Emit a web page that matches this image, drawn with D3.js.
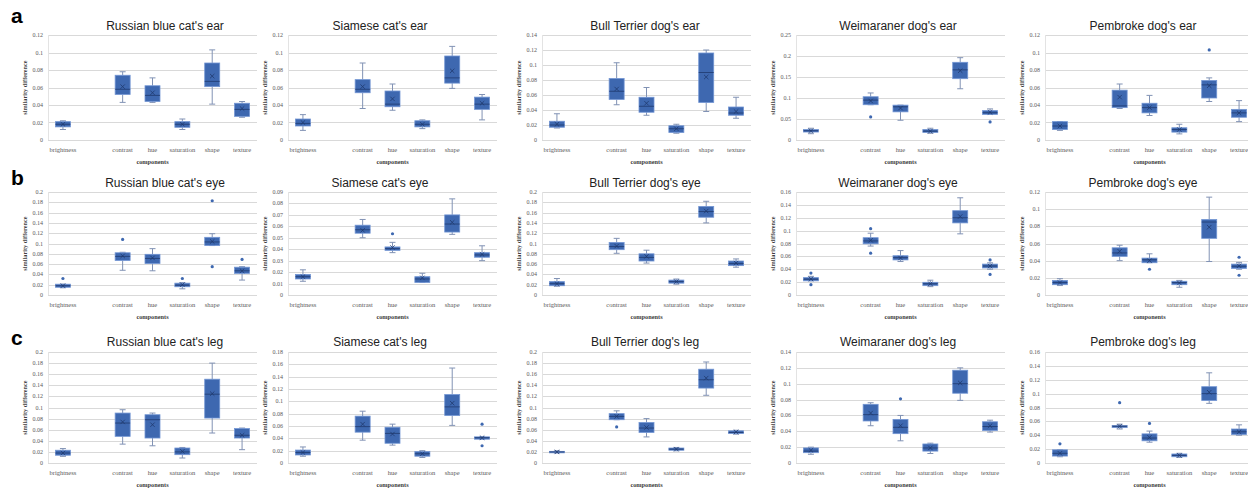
<!DOCTYPE html>
<html>
<head>
<meta charset="utf-8">
<script src="https://cdn.jsdelivr.net/npm/d3@7"></script>
<style>
  body { margin: 0; background: #fff; }
  svg { display: block; }
  .title { font-family: "Liberation Sans", Arial, sans-serif; font-size: 12px; fill: #222; }
  .letter { font-family: "Liberation Sans", Arial, sans-serif; font-size: 21px; font-weight: bold; fill: #000; }
  .tick-label { font-family: "Liberation Serif", "Times New Roman", serif; font-size: 6px; fill: #595959; }
  .cat-label { font-family: "Liberation Serif", "Times New Roman", serif; font-size: 6.5px; fill: #595959; }
  .axis-title { font-family: "Liberation Serif", "Times New Roman", serif; font-size: 6.3px; font-weight: bold; fill: #404040; }
</style>
</head>
<body>
<svg id="chart"></svg>
<script>
// ---- data ----
const components = ["brightness", "contrast", "hue", "saturation", "shape", "texture"];
// brightness sits apart from the others, so leave an empty slot after it
const slots = ["brightness", "_gap", "contrast", "hue", "saturation", "shape", "texture"];
const rowLetters = ["a", "b", "c"];

const titles = [
  ["Russian blue cat's ear", "Siamese cat's ear", "Bull Terrier dog's ear", "Weimaraner dog's ear", "Pembroke dog's ear"],
  ["Russian blue cat's eye", "Siamese cat's eye", "Bull Terrier dog's eye", "Weimaraner dog's eye", "Pembroke dog's eye"],
  ["Russian blue cat's leg", "Siamese cat's leg", "Bull Terrier dog's leg", "Weimaraner dog's leg", "Pembroke dog's leg"]
];

const yMax = [
  [0.12, 0.12, 0.14, 0.25, 0.12],
  [0.2, 0.09, 0.2, 0.16, 0.12],
  [0.2, 0.18, 0.2, 0.14, 0.16]
];
const yStep = [
  [0.02, 0.02, 0.02, 0.05, 0.02],
  [0.02, 0.01, 0.02, 0.02, 0.02],
  [0.02, 0.02, 0.02, 0.02, 0.02]
];

// each row: [whisker low, q1, median, q3, whisker high, mean, outliers]
const russianEar = [
  [0.012, 0.015, 0.018, 0.021, 0.022, 0.018, []],
  [0.043, 0.052, 0.058, 0.074, 0.078, 0.061, []],
  [0.043, 0.044, 0.051, 0.062, 0.071, 0.054, []],
  [0.012, 0.0145, 0.018, 0.021, 0.024, 0.018, []],
  [0.041, 0.061, 0.067, 0.088, 0.103, 0.073, []],
  [0.026, 0.027, 0.035, 0.042, 0.044, 0.036, []]
];
const siameseEar = [
  [0.011, 0.016, 0.019, 0.024, 0.029, 0.02, []],
  [0.036, 0.054, 0.058, 0.069, 0.088, 0.061, []],
  [0.034, 0.038, 0.041, 0.056, 0.064, 0.047, []],
  [0.013, 0.015, 0.018, 0.022, 0.023, 0.018, []],
  [0.059, 0.065, 0.071, 0.096, 0.107, 0.079, []],
  [0.023, 0.035, 0.041, 0.049, 0.052, 0.042, []]
];
const bullEar = [
  [0.016, 0.017, 0.02, 0.025, 0.035, 0.021, []],
  [0.047, 0.054, 0.065, 0.082, 0.103, 0.068, []],
  [0.033, 0.037, 0.045, 0.057, 0.07, 0.049, []],
  [0.009, 0.01, 0.015, 0.019, 0.021, 0.015, []],
  [0.038, 0.05, 0.09, 0.116, 0.12, 0.084, []],
  [0.029, 0.033, 0.036, 0.044, 0.057, 0.038, []]
];
const weimEar = [
  [0.015, 0.019, 0.022, 0.025, 0.028, 0.022, []],
  [0.084, 0.084, 0.095, 0.103, 0.112, 0.093, [0.055]],
  [0.047, 0.067, 0.079, 0.083, 0.083, 0.076, []],
  [0.016, 0.018, 0.021, 0.025, 0.028, 0.021, []],
  [0.122, 0.146, 0.167, 0.185, 0.196, 0.165, []],
  [0.061, 0.061, 0.065, 0.07, 0.074, 0.066, [0.043]]
];
const pembEar = [
  [0.011, 0.012, 0.016, 0.021, 0.021, 0.016, []],
  [0.036, 0.037, 0.039, 0.057, 0.064, 0.049, []],
  [0.028, 0.031, 0.037, 0.042, 0.051, 0.037, []],
  [0.007, 0.009, 0.012, 0.014, 0.018, 0.012, []],
  [0.044, 0.048, 0.063, 0.068, 0.071, 0.062, [0.103]],
  [0.021, 0.026, 0.031, 0.035, 0.045, 0.031, []]
];

const russianEye = [
  [0.014, 0.015, 0.018, 0.021, 0.021, 0.018, [0.032]],
  [0.048, 0.067, 0.075, 0.082, 0.083, 0.076, [0.108]],
  [0.047, 0.061, 0.071, 0.079, 0.09, 0.072, []],
  [0.012, 0.016, 0.019, 0.023, 0.024, 0.02, [0.032]],
  [0.096, 0.096, 0.103, 0.112, 0.119, 0.104, [0.183, 0.055]],
  [0.029, 0.042, 0.047, 0.054, 0.055, 0.047, [0.069]]
];
const siameseEye = [
  [0.012, 0.014, 0.016, 0.018, 0.022, 0.016, []],
  [0.05, 0.054, 0.057, 0.061, 0.066, 0.0565, []],
  [0.037, 0.039, 0.0405, 0.042, 0.046, 0.0415, [0.0535]],
  [0.011, 0.011, 0.014, 0.016, 0.019, 0.015, []],
  [0.053, 0.055, 0.062, 0.07, 0.084, 0.0635, []],
  [0.03, 0.033, 0.035, 0.037, 0.043, 0.0355, []]
];
const bullEye = [
  [0.017, 0.018, 0.022, 0.026, 0.032, 0.022, []],
  [0.081, 0.088, 0.094, 0.102, 0.11, 0.095, []],
  [0.062, 0.066, 0.073, 0.08, 0.087, 0.075, []],
  [0.021, 0.023, 0.026, 0.029, 0.031, 0.026, []],
  [0.14, 0.151, 0.162, 0.172, 0.182, 0.163, []],
  [0.054, 0.057, 0.061, 0.066, 0.07, 0.062, []]
];
const weimEye = [
  [0.022, 0.022, 0.0245, 0.027, 0.029, 0.025, [0.034, 0.016]],
  [0.076, 0.0795, 0.084, 0.089, 0.096, 0.085, [0.103, 0.065]],
  [0.052, 0.0545, 0.058, 0.061, 0.069, 0.0575, []],
  [0.013, 0.0145, 0.0175, 0.0197, 0.023, 0.0175, []],
  [0.095, 0.112, 0.12, 0.131, 0.151, 0.122, []],
  [0.04, 0.042, 0.045, 0.048, 0.05, 0.045, [0.0545, 0.032]]
];
const pembEye = [
  [0.011, 0.012, 0.0145, 0.017, 0.019, 0.0145, []],
  [0.04, 0.045, 0.049, 0.055, 0.058, 0.051, []],
  [0.0376, 0.0376, 0.041, 0.043, 0.048, 0.04, [0.03]],
  [0.009, 0.012, 0.0145, 0.016, 0.017, 0.014, []],
  [0.039, 0.066, 0.085, 0.088, 0.114, 0.079, []],
  [0.03, 0.031, 0.0335, 0.036, 0.038, 0.034, [0.044, 0.023]]
];

const russianLeg = [
  [0.012, 0.014, 0.018, 0.023, 0.026, 0.018, []],
  [0.034, 0.048, 0.072, 0.09, 0.096, 0.074, []],
  [0.031, 0.045, 0.078, 0.087, 0.09, 0.069, []],
  [0.009, 0.015, 0.02, 0.027, 0.028, 0.021, []],
  [0.054, 0.081, 0.124, 0.151, 0.18, 0.125, []],
  [0.024, 0.045, 0.05, 0.062, 0.063, 0.05, []]
];
const siameseLeg = [
  [0.011, 0.013, 0.017, 0.021, 0.026, 0.017, []],
  [0.037, 0.05, 0.059, 0.076, 0.084, 0.063, []],
  [0.029, 0.032, 0.048, 0.058, 0.063, 0.047, []],
  [0.009, 0.011, 0.015, 0.0185, 0.02, 0.015, []],
  [0.061, 0.077, 0.091, 0.111, 0.154, 0.097, []],
  [0.0386, 0.0386, 0.041, 0.0424, 0.0424, 0.041, [0.063, 0.028]]
];
const bullLeg = [
  [0.018, 0.019, 0.02, 0.021, 0.022, 0.02, []],
  [0.078, 0.078, 0.084, 0.089, 0.094, 0.084, [0.065]],
  [0.047, 0.055, 0.063, 0.073, 0.08, 0.064, []],
  [0.022, 0.023, 0.025, 0.027, 0.028, 0.025, []],
  [0.122, 0.135, 0.15, 0.169, 0.182, 0.153, []],
  [0.052, 0.053, 0.055, 0.058, 0.059, 0.056, []]
];
const weimLeg = [
  [0.011, 0.013, 0.015, 0.019, 0.02, 0.016, []],
  [0.047, 0.053, 0.061, 0.074, 0.076, 0.063, []],
  [0.028, 0.037, 0.045, 0.055, 0.06, 0.047, [0.081]],
  [0.012, 0.015, 0.019, 0.024, 0.025, 0.019, []],
  [0.079, 0.088, 0.1, 0.117, 0.12, 0.101, []],
  [0.039, 0.041, 0.046, 0.052, 0.054, 0.047, []]
];
const pembLeg = [
  [0.009, 0.01, 0.014, 0.019, 0.019, 0.014, [0.0276]],
  [0.049, 0.051, 0.053, 0.054, 0.056, 0.053, [0.087]],
  [0.03, 0.032, 0.036, 0.042, 0.046, 0.037, [0.057]],
  [0.008, 0.009, 0.011, 0.013, 0.014, 0.011, []],
  [0.086, 0.09, 0.1, 0.11, 0.13, 0.102, []],
  [0.04, 0.041, 0.045, 0.049, 0.055, 0.045, []]
];

const panelStats = [
  [russianEar, siameseEar, bullEar, weimEar, pembEar],
  [russianEye, siameseEye, bullEye, weimEye, pembEye],
  [russianLeg, siameseLeg, bullLeg, weimLeg, pembLeg]
];

// ---- layout ----
const width = 1248, height = 488;
const rowLayout = [
  { top: 35, bottom: 140, title: 29.5, letter: 23 },
  { top: 192, bottom: 295, title: 187, letter: 185 },
  { top: 352, bottom: 463, title: 346, letter: 345 }
];
const colLeft = [48, 288, 542, 796, 1045];
const colTitle = [165, 380, 645, 898, 1143];
const plotW = 209;
const boxW = 15;

const boxFill = "#3e68b0";
const boxStroke = "#7396d4";
const whiskerColor = "#8192b4";
const darkBlue = "#1f3a6e";

let svg = d3.select("#chart").attr("width", width).attr("height", height);
svg.append("rect").attr("width", width).attr("height", height).attr("fill", "#fff");

const fmt = v => String(parseFloat(v.toFixed(4)));

function drawPanel(r, c) {
  let lay = rowLayout[r];
  let left = colLeft[c];
  let stats = panelStats[r][c];

  let x = d3.scalePoint().domain(slots).range([left, left + plotW]).padding(0.5);
  let y = d3.scaleLinear().domain([0, yMax[r][c]]).range([lay.bottom, lay.top]);
  let ticks = d3.range(0, yMax[r][c] + yStep[r][c] / 2, yStep[r][c]);

  let g = svg.append("g");

  // gridlines
  g.selectAll("line.grid")
    .data(ticks)
    .join("line")
    .attr("class", "grid")
    .attr("x1", left).attr("x2", left + plotW)
    .attr("y1", d => Math.round(y(d)) + 0.5).attr("y2", d => Math.round(y(d)) + 0.5)
    .attr("stroke", "#d9d9d9")
    .attr("stroke-width", 1);

  // faint left axis line
  g.append("line")
    .attr("x1", left + 0.5).attr("x2", left + 0.5)
    .attr("y1", lay.top).attr("y2", lay.bottom)
    .attr("stroke", "#e3e3e3");

  // y tick labels
  g.selectAll("text.tick-label")
    .data(ticks)
    .join("text")
    .attr("class", "tick-label")
    .attr("x", left - 5)
    .attr("y", d => y(d) + 2)
    .attr("text-anchor", "end")
    .text(fmt);

  // category labels
  g.selectAll("text.cat-label")
    .data(components)
    .join("text")
    .attr("class", "cat-label")
    .attr("x", d => x(d))
    .attr("y", lay.bottom + 12)
    .attr("text-anchor", "middle")
    .text(d => d);

  // axis titles
  g.append("text")
    .attr("class", "axis-title")
    .attr("x", left + plotW / 2)
    .attr("y", lay.bottom + 24)
    .attr("text-anchor", "middle")
    .text("components");

  g.append("text")
    .attr("class", "axis-title")
    .attr("transform", "translate(" + (left - 21) + "," + ((lay.top + lay.bottom) / 2) + ") rotate(-90)")
    .attr("text-anchor", "middle")
    .text("similarity difference");

  // chart title
  g.append("text")
    .attr("class", "title")
    .attr("x", colTitle[c])
    .attr("y", lay.title)
    .attr("text-anchor", "middle")
    .text(titles[r][c]);

  // boxes
  let boxes = g.selectAll("g.box")
    .data(stats.map((s, i) => ({ name: components[i], s: s })))
    .join("g")
    .attr("class", "box");

  // whiskers
  boxes.append("line")
    .attr("x1", d => x(d.name)).attr("x2", d => x(d.name))
    .attr("y1", d => y(d.s[0])).attr("y2", d => y(d.s[1]))
    .attr("stroke", whiskerColor).attr("stroke-width", 1);
  boxes.append("line")
    .attr("x1", d => x(d.name)).attr("x2", d => x(d.name))
    .attr("y1", d => y(d.s[3])).attr("y2", d => y(d.s[4]))
    .attr("stroke", whiskerColor).attr("stroke-width", 1);
  // caps
  [0, 4].forEach(k => {
    boxes.append("line")
      .attr("x1", d => x(d.name) - 3).attr("x2", d => x(d.name) + 3)
      .attr("y1", d => y(d.s[k])).attr("y2", d => y(d.s[k]))
      .attr("stroke", whiskerColor).attr("stroke-width", 1);
  });

  boxes.append("rect")
    .attr("x", d => x(d.name) - boxW / 2)
    .attr("width", boxW)
    .attr("y", d => y(d.s[3]))
    .attr("height", d => Math.max(1.5, y(d.s[1]) - y(d.s[3])))
    .attr("fill", boxFill)
    .attr("stroke", boxStroke)
    .attr("stroke-width", 0.8);

  // median
  boxes.append("line")
    .attr("x1", d => x(d.name) - boxW / 2).attr("x2", d => x(d.name) + boxW / 2)
    .attr("y1", d => y(d.s[2])).attr("y2", d => y(d.s[2]))
    .attr("stroke", darkBlue).attr("stroke-width", 0.8);

  // mean marker
  boxes.append("path")
    .attr("d", d => {
      let cx = x(d.name), cy = y(d.s[5]), h = 2.2;
      return "M" + (cx - h) + "," + (cy - h) + "L" + (cx + h) + "," + (cy + h) +
        "M" + (cx - h) + "," + (cy + h) + "L" + (cx + h) + "," + (cy - h);
    })
    .attr("stroke", darkBlue).attr("stroke-width", 0.8).attr("fill", "none");

  // outliers
  boxes.selectAll("circle")
    .data(d => d.s[6].map(v => ({ name: d.name, v: v })))
    .join("circle")
    .attr("cx", d => x(d.name))
    .attr("cy", d => y(d.v))
    .attr("r", 1.6)
    .attr("fill", boxFill);
}

rowLetters.forEach((letter, r) => {
  svg.append("text")
    .attr("class", "letter")
    .attr("x", 11)
    .attr("y", rowLayout[r].letter)
    .text(letter);
  for (let c = 0; c < 5; c++) drawPanel(r, c);
});
</script>
</body>
</html>
